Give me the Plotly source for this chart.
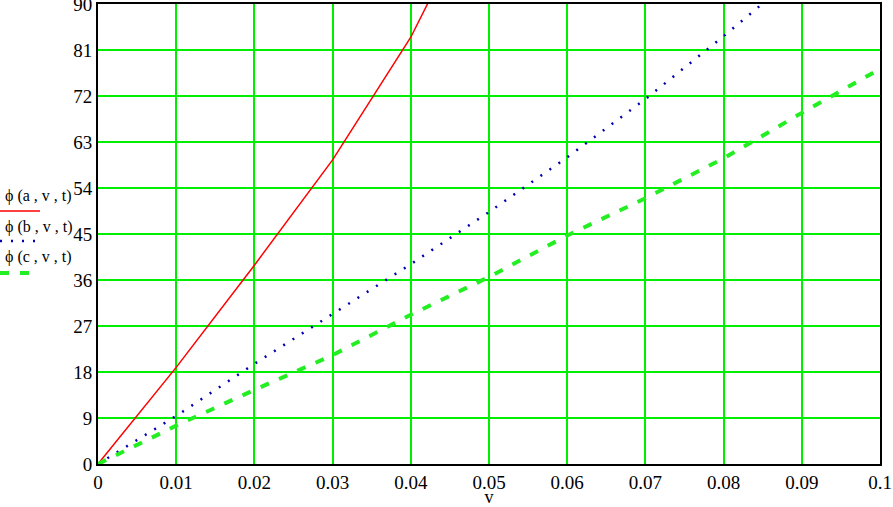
import plotly.graph_objects as go

# ------------------ data ------------------
v = [0.0, 0.01, 0.02, 0.03, 0.04, 0.05, 0.06, 0.07, 0.08, 0.09, 0.10]
phi_a = [0.0, 18.9, 38.9, 59.5, 83.5, 114.0]
phi_b = [0.0, 9.4, 19.6, 29.3, 39.1, 49.3, 60.0, 71.4, 83.7, 96.5]
phi_c = [0.0, 7.5, 14.5, 21.3, 29.2, 36.6, 44.7, 52.0, 59.8, 68.7, 77.3]

legend_labels = ["ϕ (a , v , t)", "ϕ (b , v , t)", "ϕ (c , v , t)"]
x_ticks = [i / 100 for i in range(0, 11)]
x_ticktext = ["0"] + ["%.2f" % t for t in x_ticks[1:-1]] + ["0.1"]
y_ticks = list(range(0, 91, 9))

SERIF = "Liberation Serif, Times New Roman, serif"
GRID = "#00ee00"

fig = go.Figure()
fig.add_trace(go.Scatter(x=v[:len(phi_a)], y=phi_a, mode="lines",
                         line=dict(color="#ff0000", width=1.5)))
fig.add_trace(go.Scatter(x=v[:len(phi_b)], y=phi_b, mode="lines",
                         line=dict(color="#0000b0", width=2.5, dash="2px,9px")))
fig.add_trace(go.Scatter(x=v, y=phi_c, mode="lines",
                         line=dict(color="#22ee22", width=4, dash="9px,11px")))

# legend as in the original: label text with the line sample beneath it
W, H = 782, 460  # plot area size in pixels
def px(x):
    return (x - 98) / W
def py(y):
    return (464 - y) / H

samples = [
    (196, 211, dict(color="#ff0000", width=1.5)),
    (227, 241, dict(color="#0000b0", width=2.5, dash="2px,9px")),
    (257, 273, dict(color="#22ee22", width=4, dash="9px,11px")),
]
for label, (ty, ly, ln) in zip(legend_labels, samples):
    fig.add_annotation(text=label, xref="paper", yref="paper",
                       x=px(3), y=py(ty), xanchor="left", yanchor="middle",
                       showarrow=False, font=dict(family=SERIF, size=16, color="black"))
    fig.add_shape(type="line", xref="paper", yref="paper",
                  x0=px(0), x1=px(40), y0=py(ly), y1=py(ly), line=ln)

fig.update_xaxes(range=[0, 0.1], tickvals=x_ticks, ticktext=x_ticktext,
                 showgrid=True, gridcolor=GRID, gridwidth=2, zeroline=False,
                 showline=True, linecolor="black", linewidth=2, mirror=True,
                 ticks="", automargin=False,
                 tickfont=dict(family=SERIF, size=19, color="black"),
                 title=dict(text="v", font=dict(family=SERIF, size=18, color="black"), standoff=7))
fig.update_yaxes(range=[0, 90], tickvals=y_ticks,
                 showgrid=True, gridcolor=GRID, gridwidth=2, zeroline=False,
                 showline=True, linecolor="black", linewidth=2, mirror=True,
                 ticks="", ticklabelstandoff=0, automargin=False,
                 ticklabeloverflow="allow",
                 tickfont=dict(family=SERIF, size=19, color="black"))

fig.update_layout(
    width=893, height=507,
    margin=dict(l=98, r=13, t=4, b=43),
    plot_bgcolor="white", paper_bgcolor="white",
    showlegend=False,
)

# drop the page's default body margin so the figure fills the window
fig.write_html("out.html", config={"displayModeBar": False},
               post_script="document.body.style.margin='0';")
